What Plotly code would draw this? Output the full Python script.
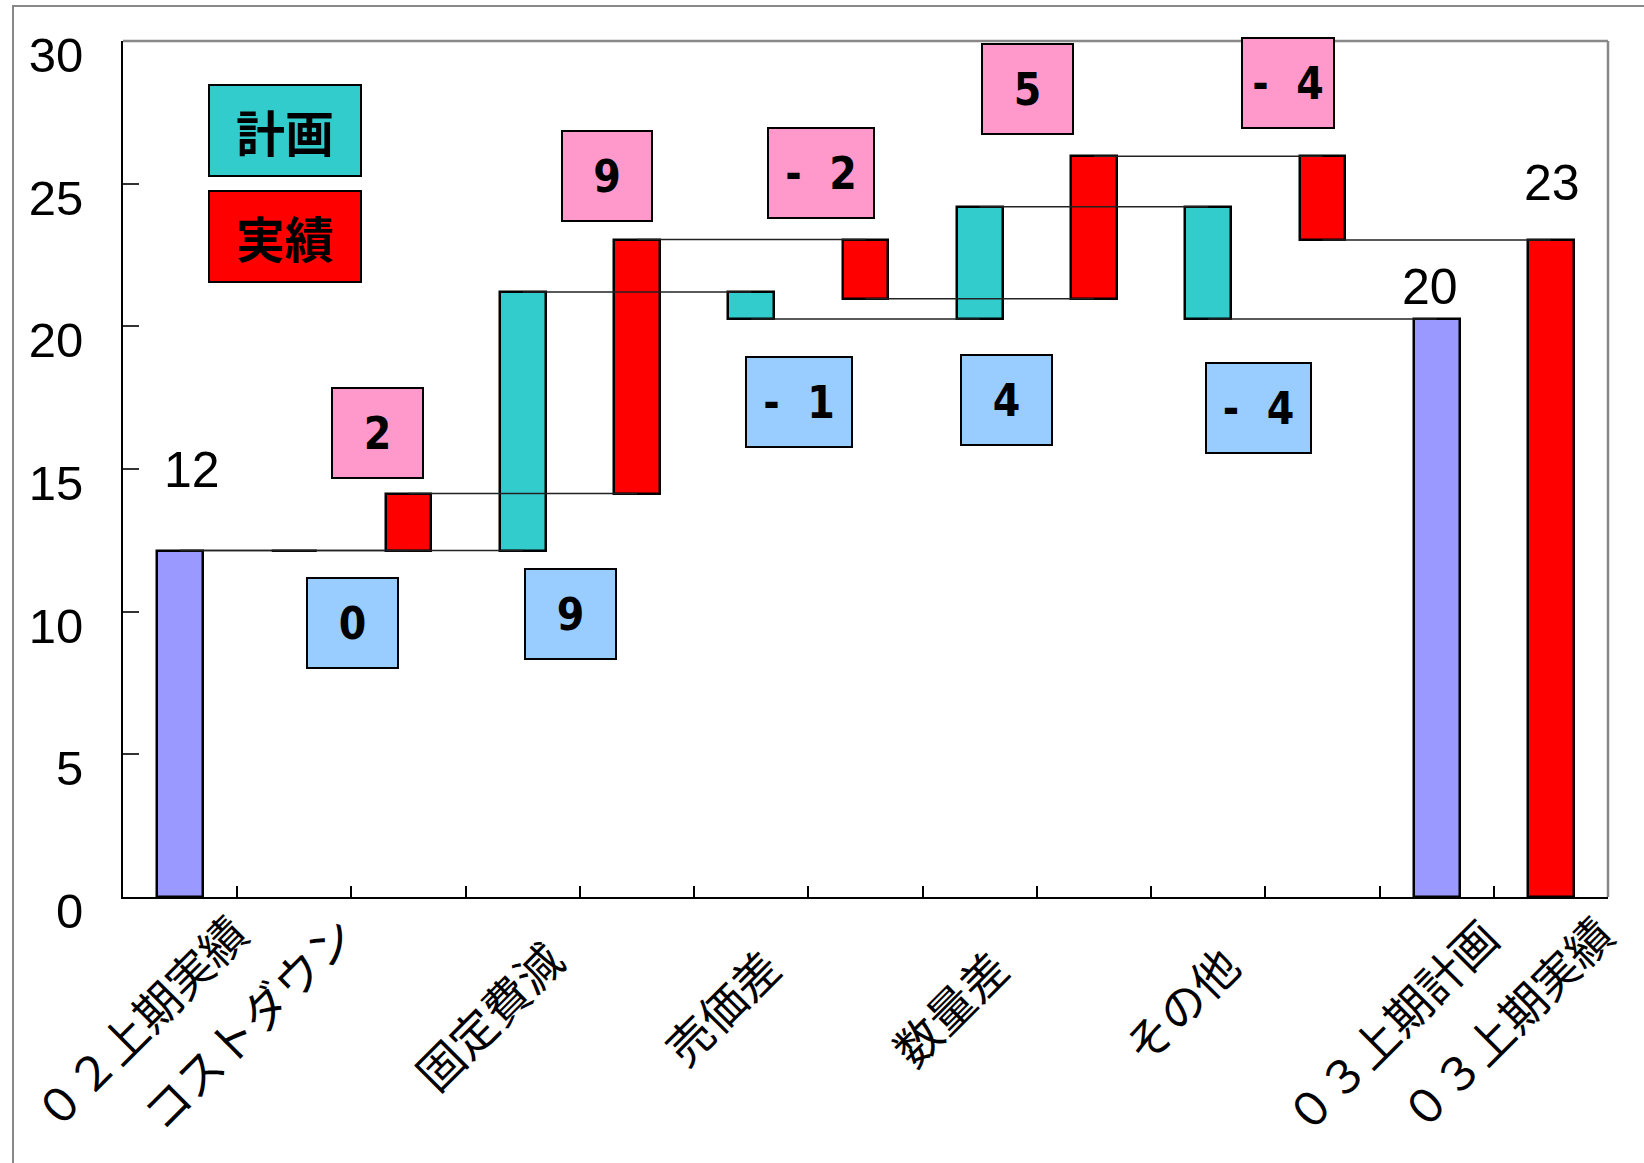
import plotly.graph_objects as go

# ---------------- data ----------------
axis_labels = ["０２上期実績", "コストダウン", "固定費減", "売価差", "数量差", "その他", "０３上期計画", "０３上期実績"]
items = ["コストダウン", "固定費減", "売価差", "数量差", "その他"]
start_value = 12.14          # ０２上期実績
plan_deltas = [0.0, 9.06, -0.94, 3.93, -3.93]     # 計画
actual_deltas = [2.00, 8.90, -2.07, 4.99, -2.93]  # 実績
plan_total = 20.24           # ０３上期計画
actual_total = 23.04         # ０３上期実績
plan_labels = ["0", "9", "-  1", "4", "-  4"]
actual_labels = ["2", "9", "-  2", "5", "-  4"]
total_labels = ["12", "20", "23"]

# ---------------- layout geometry ----------------
W, H = 1644, 1163
L, R, T, B = 123, 36, 41, 266
PX0, PX1 = L, W - R
PY0, PY1 = T, H - B


def px_x(px):
    return (px - PX0) / (PX1 - PX0)


def px_y(py):
    return (PY1 - py) / (PY1 - PY0)


start_slot = 0
plan_slots = [1, 3, 5, 7, 9]
actual_slots = [2, 4, 6, 8, 10]
plan_total_slot = 11
actual_total_slot = 12

C_PLAN = "#33CCCC"
C_ACT = "#FF0000"
C_TOT = "#9999FF"
C_PINK = "#FF99CC"
C_BLUE = "#99CCFF"
BAR_W = 0.4
OUTLINE = dict(color="black", width=2.5)

# cumulative bases
plan_base, cum = [], start_value
for d in plan_deltas:
    plan_base.append(cum)
    cum += d
act_base, cum = [], start_value
for d in actual_deltas:
    act_base.append(cum)
    cum += d

fig = go.Figure()


def chain(slots, levels):
    xs, ys = [], []
    for i in range(len(slots) - 1):
        xs += [slots[i], slots[i + 1], None]
        ys += [levels[i], levels[i], None]
    return xs, ys


plan_chain_slots = [start_slot] + plan_slots + [plan_total_slot]
plan_levels = [start_value] + [b + d for b, d in zip(plan_base, plan_deltas)]
act_chain_slots = [start_slot] + actual_slots + [actual_total_slot]
act_levels = [start_value] + [b + d for b, d in zip(act_base, actual_deltas)]

fig.add_trace(go.Bar(x=[start_slot, plan_total_slot], y=[start_value, plan_total], base=[0, 0],
                     width=BAR_W, marker=dict(color=C_TOT, line=OUTLINE), showlegend=False))
fig.add_trace(go.Bar(x=[actual_total_slot], y=[actual_total], base=[0],
                     width=BAR_W, marker=dict(color=C_ACT, line=OUTLINE), showlegend=False))
fig.add_trace(go.Bar(x=plan_slots, y=plan_deltas, base=plan_base, name="計画",
                     width=BAR_W, marker=dict(color=C_PLAN, line=OUTLINE), showlegend=False))
fig.add_trace(go.Bar(x=actual_slots, y=actual_deltas, base=act_base, name="実績",
                     width=BAR_W, marker=dict(color=C_ACT, line=OUTLINE), showlegend=False))

for s, lv in [(plan_chain_slots, plan_levels), (act_chain_slots, act_levels)]:
    xs, ys = chain(s, lv)
    fig.add_trace(go.Scatter(x=xs, y=ys, mode="lines", line=dict(color="#222222", width=1.5),
                             showlegend=False, hoverinfo="skip", cliponaxis=False))

annotations = []

# category labels (rotated), centre positions in px
label_pos = [(139, 1021), (247, 1022), (488, 1015), (721, 1006), (949, 1007), (1180, 1004), (1390, 1025), (1505, 1022)]
for txt, (px, py) in zip(axis_labels, label_pos):
    annotations.append(dict(text=txt, x=px_x(px), y=px_y(py), xref="paper", yref="paper",
                            xanchor="center", yanchor="middle", textangle=-45, showarrow=False,
                            font=dict(family="Noto Sans CJK JP", size=46, color="black")))

# value boxes
BOX_FONT = dict(family="Liberation Sans Narrow, DejaVu Sans Condensed, Arial Narrow, sans-serif",
                size=44, color="black")
plan_box_pos = [(352, 623, 89), (570, 614, 89), (799, 402, 104), (1006, 400, 89), (1258, 408, 103)]
act_box_pos = [(377, 433, 89), (607, 176, 88), (821, 173, 104), (1027, 89, 89), (1288, 83, 90)]
for lab, (px, py, w) in zip(plan_labels, plan_box_pos):
    annotations.append(dict(text="<b>%s</b>" % lab, x=px_x(px), y=px_y(py), xref="paper", yref="paper",
                            xanchor="center", yanchor="middle", showarrow=False, width=w, height=88,
                            bgcolor=C_BLUE, bordercolor="black", borderwidth=2, borderpad=0, font=BOX_FONT))
for lab, (px, py, w) in zip(actual_labels, act_box_pos):
    annotations.append(dict(text="<b>%s</b>" % lab, x=px_x(px), y=px_y(py), xref="paper", yref="paper",
                            xanchor="center", yanchor="middle", showarrow=False, width=w, height=88,
                            bgcolor=C_PINK, bordercolor="black", borderwidth=2, borderpad=0, font=BOX_FONT))

# total value labels
TOT_FONT = dict(family="Liberation Sans, Arial, sans-serif", size=50, color="black")
for lab, xs_, yv, dx, dy in zip(total_labels, [start_slot, plan_total_slot, actual_total_slot],
                                [start_value, plan_total, actual_total], [12, -7, 1], [81, 32, 57]):
    annotations.append(dict(text=lab, x=xs_, y=yv, xref="x", yref="y", xshift=dx, yshift=dy,
                            showarrow=False, xanchor="center", yanchor="middle", font=TOT_FONT))

# legend boxes
LEG_FONT = dict(family="Noto Sans CJK JP", size=49, color="black")
for txt, col, py in [("計画", C_PLAN, 130.5), ("実績", C_ACT, 236)]:
    annotations.append(dict(text="<b>%s</b>" % txt, x=px_x(285), y=px_y(py), xref="paper", yref="paper",
                            xanchor="center", yanchor="middle", showarrow=False, width=150, height=89,
                            bgcolor=col, bordercolor="black", borderwidth=2, borderpad=0, font=LEG_FONT))

shapes = [
    # outer chart border
    dict(type="rect", xref="paper", yref="paper", x0=px_x(13), x1=px_x(1700), y0=px_y(1200), y1=px_y(6),
         line=dict(color="#888888", width=2), layer="below"),
    # plot-area top / right border
    dict(type="line", xref="paper", yref="paper", x0=0, x1=1, y0=1, y1=1, line=dict(color="#888888", width=2.5)),
    dict(type="line", xref="paper", yref="paper", x0=1, x1=1, y0=0, y1=1, line=dict(color="#888888", width=2.5)),
]

fig.update_layout(
    width=W, height=H,
    margin=dict(l=L, r=R, t=T, b=B, pad=0, autoexpand=False),
    paper_bgcolor="white", plot_bgcolor="white",
    barmode="overlay", bargap=0,
    annotations=annotations, shapes=shapes,
    showlegend=False,
    xaxis=dict(range=[-0.5, 12.5], tickmode="array", tickvals=[i + 0.5 for i in range(12)],
               ticks="inside", ticklen=11, tickwidth=1.5, tickcolor="black", automargin=False,
               showticklabels=False, showgrid=False, zeroline=False,
               showline=True, linecolor="black", linewidth=2),
    yaxis=dict(range=[0, 30], tickmode="linear", tick0=0, dtick=5, automargin=False,
               ticks="inside", ticklen=16, tickwidth=1.5, tickcolor="#333333",
               showgrid=False, zeroline=False, showline=True, linecolor="black", linewidth=2,
               tickfont=dict(family="Liberation Sans, Arial, sans-serif", size=49, color="black"),
               ticklabelstandoff=28, ticklabelshift=14),
)

fig.write_html("out.html")
